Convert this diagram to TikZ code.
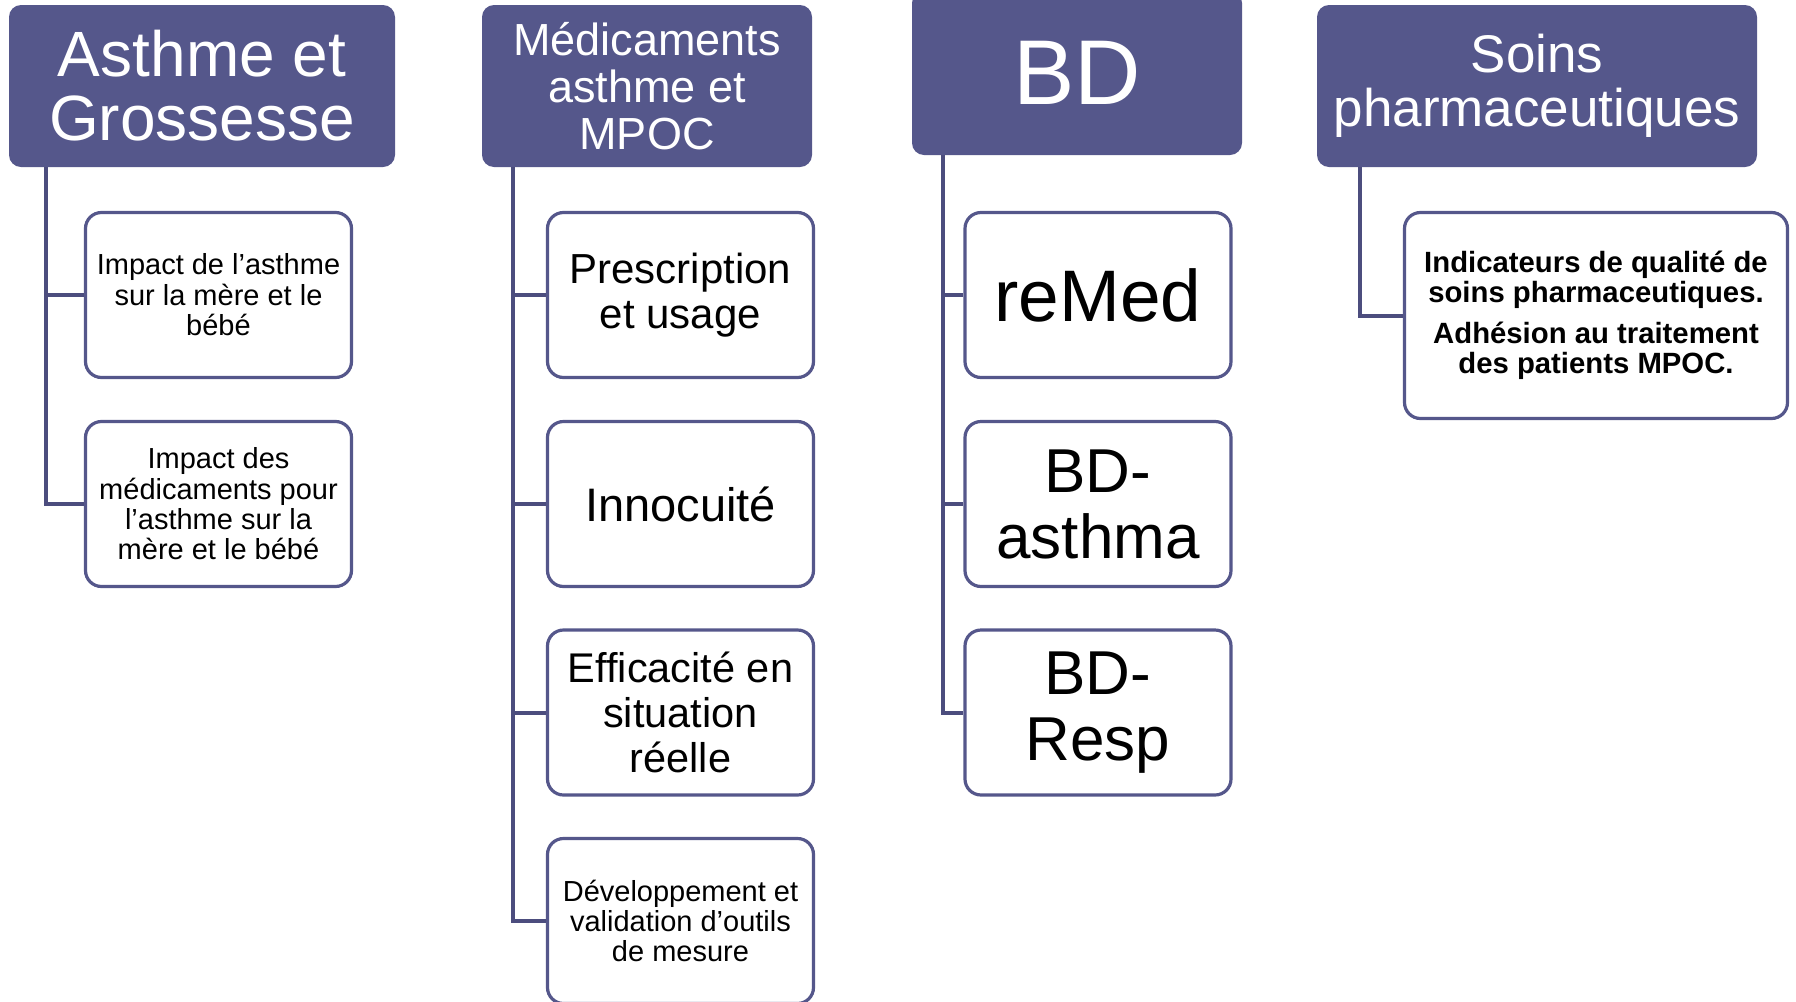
\documentclass[tikz,border=0pt]{standalone}
\usepackage{fontspec}
\setmainfont{Liberation Sans}
\definecolor{axeblue}{RGB}{85,87,139}
\definecolor{lienblue}{RGB}{76,77,126}

\begin{document}
\begin{tikzpicture}[x=0.5pt, y=-0.5pt]
  \tikzstyle{axe} = [rectangle, fill=axeblue, text=white, align=center, rounded corners=6pt,
                     inner sep=0pt, minimum height=81pt]
  \tikzstyle{theme} = [rectangle, draw=axeblue, line width=1.6pt, fill=white, align=center,
                       rounded corners=8pt, inner sep=0pt, minimum width=133pt, minimum height=82.5pt]
  \tikzstyle{lien} = [draw=lienblue, line width=2pt]

\useasboundingbox (0,0) rectangle (1796,1002);

\node[axe, minimum width=193pt, font=\fontsize{32}{32}\selectfont] (asthme) at (202,86) {Asthme et\\Grossesse};
\node[axe, minimum width=165pt, font=\fontsize{22.5}{23.5}\selectfont] (medic) at (647,86) {Médicaments\\asthme et\\MPOC};
\node[axe, minimum width=165pt, minimum height=82pt, font=\fontsize{46}{46}\selectfont] (bd) at (1077,73) {BD};
\node[axe, minimum width=220pt, font=\fontsize{26.5}{27}\selectfont] (soins) at (1537,86) {Soins\\pharmaceutiques};

% Asthme et grossesse
\node[theme, font=\fontsize{14.5}{15.2}\selectfont] (mere) at (218.5,295) {Impact de l’asthme\\sur la mère et le\\bébé};
\node[theme, font=\fontsize{14.5}{15.2}\selectfont] (traitmere) at (218.5,504) {Impact des\\médicaments pour\\l’asthme sur la\\mère et le bébé};

% Medicaments
\node[theme, font=\fontsize{21}{22.4}\selectfont] (prescr) at (680.5,295) {Prescription\\et usage};
\node[theme, font=\fontsize{23.5}{24}\selectfont] (innoc) at (680.5,504) {Innocuité};
\node[theme, font=\fontsize{20.75}{22.5}\selectfont] (effic) at (680.5,712.5) {Efficacité en\\situation\\réelle};
\node[theme, font=\fontsize{14.5}{15.2}\selectfont] (outils) at (680.5,921) {Développement et\\validation d’outils\\de mesure};

% BD
\node[theme, font=\fontsize{36.5}{37}\selectfont] (remed) at (1098,295) {reMed};
\node[theme, font=\fontsize{31}{33}\selectfont] (bdasthma) at (1098,504) {BD-\\asthma};
\node[theme, font=\fontsize{31}{33}\selectfont] (bdresp) at (1098,712.5) {BD-\\Resp};

% Soins
\node[theme, minimum width=191.5pt, minimum height=103pt, font=\bfseries\fontsize{14.65}{15}\selectfont] (indic) at (1596,315.5) {Indicateurs de qualité de\\soins pharmaceutiques.\\[5.5pt]Adhésion au traitement\\des patients MPOC.};

\draw[lien] ([xshift=18.5pt]asthme.south west) |- (mere.west);
\draw[lien] ([xshift=18.5pt]asthme.south west) |- (traitmere.west);
\draw[lien] ([xshift=15.5pt]medic.south west) |- (prescr.west);
\draw[lien] ([xshift=15.5pt]medic.south west) |- (innoc.west);
\draw[lien] ([xshift=15.5pt]medic.south west) |- (effic.west);
\draw[lien] ([xshift=15.5pt]medic.south west) |- (outils.west);
\draw[lien] ([xshift=15.5pt]bd.south west) |- (remed.west);
\draw[lien] ([xshift=15.5pt]bd.south west) |- (bdasthma.west);
\draw[lien] ([xshift=15.5pt]bd.south west) |- (bdresp.west);
\draw[lien] ([xshift=21.5pt]soins.south west) |- (indic.west);
\end{tikzpicture}
\end{document}
